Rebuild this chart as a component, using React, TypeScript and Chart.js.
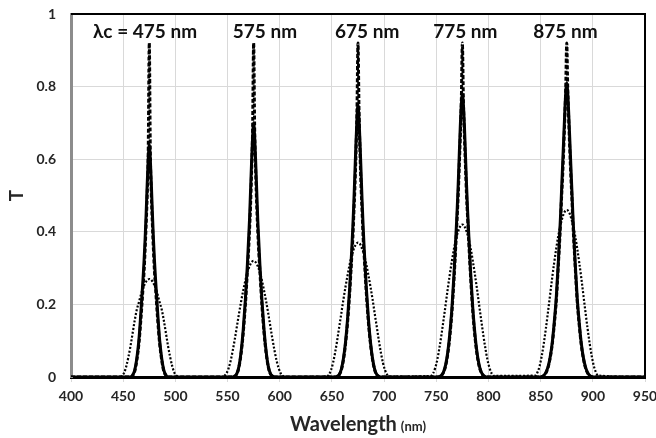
import React, { useEffect, useRef } from "react";
import { Chart, registerables } from "chart.js";

Chart.register(...registerables);

// ---- data ----
const peakCenters = [475, 575, 675, 775, 875];
const peakLabels = ["λc = 475 nm", "575 nm", "675 nm", "775 nm", "875 nm"];
const peakLabelLeftX = [421, 555, 653, 747, 843];
const peakLabelY = 0.952;

// offsets (nm) from each centre wavelength; profiles are symmetric
const halfOffsets = [0, 1, 2, 3, 4, 5, 6, 8, 10, 12, 14, 16, 18, 20, 22, 24, 26, 28, 30];

const solid475 = [0.64, 0.6, 0.53, 0.45, 0.38, 0.32, 0.27, 0.18, 0.1, 0.05, 0.018, 0.005, 0, 0, 0, 0, 0, 0, 0];
const solid575 = [0.7, 0.66, 0.59, 0.51, 0.43, 0.37, 0.31, 0.21, 0.13, 0.07, 0.03, 0.01, 0.003, 0, 0, 0, 0, 0, 0];
const solid675 = [0.75, 0.71, 0.64, 0.56, 0.48, 0.41, 0.35, 0.245, 0.16, 0.095, 0.05, 0.021, 0.007, 0.002, 0, 0, 0, 0, 0];
const solid775 = [0.78, 0.75, 0.69, 0.61, 0.53, 0.46, 0.4, 0.285, 0.19, 0.12, 0.068, 0.034, 0.014, 0.005, 0.001, 0, 0, 0, 0];
const solid875 = [0.81, 0.78, 0.72, 0.65, 0.58, 0.51, 0.44, 0.32, 0.22, 0.15, 0.092, 0.053, 0.027, 0.012, 0.004, 0.001, 0, 0, 0];

const dashed475 = [0.92, 0.62, 0.5, 0.42, 0.35, 0.29, 0.245, 0.16, 0.09, 0.045, 0.015, 0.004, 0, 0, 0, 0, 0, 0, 0];
const dashed575 = [0.92, 0.68, 0.56, 0.47, 0.4, 0.34, 0.29, 0.195, 0.12, 0.065, 0.028, 0.009, 0.002, 0, 0, 0, 0, 0, 0];
const dashed675 = [0.92, 0.73, 0.61, 0.52, 0.45, 0.38, 0.33, 0.23, 0.15, 0.09, 0.046, 0.019, 0.006, 0.001, 0, 0, 0, 0, 0];
const dashed775 = [0.92, 0.76, 0.66, 0.58, 0.5, 0.44, 0.38, 0.27, 0.18, 0.112, 0.063, 0.031, 0.013, 0.004, 0.001, 0, 0, 0, 0];
const dashed875 = [0.92, 0.79, 0.7, 0.62, 0.55, 0.49, 0.42, 0.31, 0.21, 0.142, 0.087, 0.05, 0.025, 0.011, 0.004, 0.001, 0, 0, 0];

const dotted475 = [0.27, 0.269, 0.267, 0.263, 0.258, 0.252, 0.245, 0.227, 0.205, 0.185, 0.155, 0.12, 0.085, 0.055, 0.03, 0.012, 0.004, 0, 0];
const dotted575 = [0.32, 0.319, 0.316, 0.311, 0.305, 0.297, 0.288, 0.265, 0.238, 0.208, 0.175, 0.14, 0.105, 0.073, 0.045, 0.024, 0.01, 0.003, 0];
const dotted675 = [0.37, 0.369, 0.366, 0.36, 0.353, 0.345, 0.335, 0.31, 0.28, 0.248, 0.213, 0.175, 0.138, 0.1, 0.066, 0.038, 0.018, 0.006, 0.001];
const dotted775 = [0.42, 0.419, 0.415, 0.409, 0.401, 0.392, 0.381, 0.354, 0.32, 0.283, 0.243, 0.2, 0.158, 0.117, 0.08, 0.048, 0.025, 0.01, 0.003];
const dotted875 = [0.46, 0.459, 0.455, 0.449, 0.44, 0.43, 0.418, 0.39, 0.355, 0.315, 0.272, 0.225, 0.178, 0.133, 0.092, 0.057, 0.03, 0.013, 0.004];

const xMin = 400;
const xMax = 950;
const xStep = 50;
const yMin = 0;
const yMax = 1;
const yStep = 0.2;

const xTitle = "Wavelength";
const xTitleUnit = "(nm)";
const yTitle = "T";

function buildSeries(profiles: number[][]) {
  const pts: { x: number; y: number }[] = [{ x: xMin, y: 0 }];
  peakCenters.forEach((c, i) => {
    for (let k = halfOffsets.length - 1; k > 0; k--) pts.push({ x: c - halfOffsets[k], y: profiles[i][k] });
    for (let k = 0; k < halfOffsets.length; k++) pts.push({ x: c + halfOffsets[k], y: profiles[i][k] });
  });
  pts.push({ x: xMax, y: 0 });
  return pts;
}

const FONT = "Lato";

const overlay = {
  id: "overlay",
  afterDraw(chart: any) {
    const { ctx, chartArea: a, scales } = chart;
    const x = scales.x;
    const y = scales.y;
    ctx.save();
    // top & right frame
    ctx.strokeStyle = "#000";
    ctx.lineWidth = 2;
    ctx.beginPath();
    ctx.moveTo(a.left, a.top);
    ctx.lineTo(a.right, a.top);
    ctx.lineTo(a.right, a.bottom);
    ctx.stroke();

    // peak labels
    ctx.fillStyle = "#111";
    ctx.font = `bold 19px ${FONT}`;
    ctx.textBaseline = "middle";
    ctx.textAlign = "left";
    peakLabels.forEach((t, i) => {
      ctx.fillText(t, x.getPixelForValue(peakLabelLeftX[i]), y.getPixelForValue(peakLabelY));
    });

    // x title
    const cx = (a.left + a.right) / 2;
    ctx.textBaseline = "alphabetic";
    ctx.font = `bold 20px ${FONT}`;
    const w1 = ctx.measureText(xTitle).width;
    ctx.font = `bold 13px ${FONT}`;
    const w2 = ctx.measureText(xTitleUnit).width;
    const gap = 4;
    const start = cx - (w1 + gap + w2) / 2;
    ctx.fillStyle = "#262626";
    ctx.font = `bold 20px ${FONT}`;
    ctx.fillText(xTitle, start, 431);
    ctx.font = `bold 13px ${FONT}`;
    ctx.fillText(xTitleUnit, start + w1 + gap, 431);

    // y title
    ctx.save();
    ctx.translate(17, (a.top + a.bottom) / 2);
    ctx.rotate(-Math.PI / 2);
    ctx.textAlign = "center";
    ctx.textBaseline = "middle";
    ctx.font = `bold 19px ${FONT}`;
    ctx.fillText(yTitle, 0, 0);
    ctx.restore();

    ctx.restore();
  },
};

export default function App() {
  const ref = useRef<HTMLCanvasElement | null>(null);
  useEffect(() => {
    if (!ref.current) return;
    const chart = new Chart(ref.current, {
      type: "line",
      data: {
        datasets: [
          {
            label: "dashed",
            data: buildSeries([dashed475, dashed575, dashed675, dashed775, dashed875]),
            borderColor: "#000",
            borderWidth: 3,
            borderDash: [4, 2],
            pointRadius: 0,
            cubicInterpolationMode: "monotone",
          },
          {
            label: "solid",
            data: buildSeries([solid475, solid575, solid675, solid775, solid875]),
            borderColor: "#000",
            borderWidth: 3,
            pointRadius: 0,
            cubicInterpolationMode: "monotone",
          },
          {
            label: "dotted",
            data: buildSeries([dotted475, dotted575, dotted675, dotted775, dotted875]),
            borderColor: "#000",
            borderWidth: 2.2,
            borderDash: [2, 1.8],
            pointRadius: 0,
            cubicInterpolationMode: "monotone",
          },
        ],
      },
      options: {
        responsive: false,
        animation: false,
        parsing: true,
        layout: { padding: { top: 14, right: 11, left: 0, bottom: 0 } },
        plugins: { legend: { display: false }, tooltip: { enabled: false } },
        scales: {
          x: {
            type: "linear",
            min: xMin,
            max: xMax,
            ticks: {
              stepSize: xStep,
              padding: 6,
              color: "#262626",
              font: { family: FONT, size: 14, weight: "bold" },
            },
            grid: { color: "#d9d9d9", lineWidth: 1, tickLength: 5, drawTicks: true },
            border: { color: "#000", width: 3 },
            afterFit: (s: any) => {
              s.height = 61;
              s.paddingLeft = 0;
              s.paddingRight = 0;
            },
          },
          y: {
            type: "linear",
            min: yMin,
            max: yMax,
            ticks: {
              stepSize: yStep,
              padding: 15,
              color: "#262626",
              font: { family: FONT, size: 14, weight: "bold" },
              callback: (v: any) => String(Number(Number(v).toFixed(1))),
            },
            grid: { color: "#d9d9d9", lineWidth: 1, drawTicks: false },
            border: { color: "#8c8c8c", width: 3 },
            afterFit: (s: any) => {
              s.width = 71;
              s.paddingTop = 0;
              s.paddingBottom = 0;
            },
          },
        },
      },
      plugins: [overlay],
    });
    return () => chart.destroy();
  }, []);
  return (
    <div style={{ position: "absolute", left: 0, top: 0, width: 656, height: 438, background: "#fff" }}>
      <canvas ref={ref} width={656} height={438} />
    </div>
  );
}
